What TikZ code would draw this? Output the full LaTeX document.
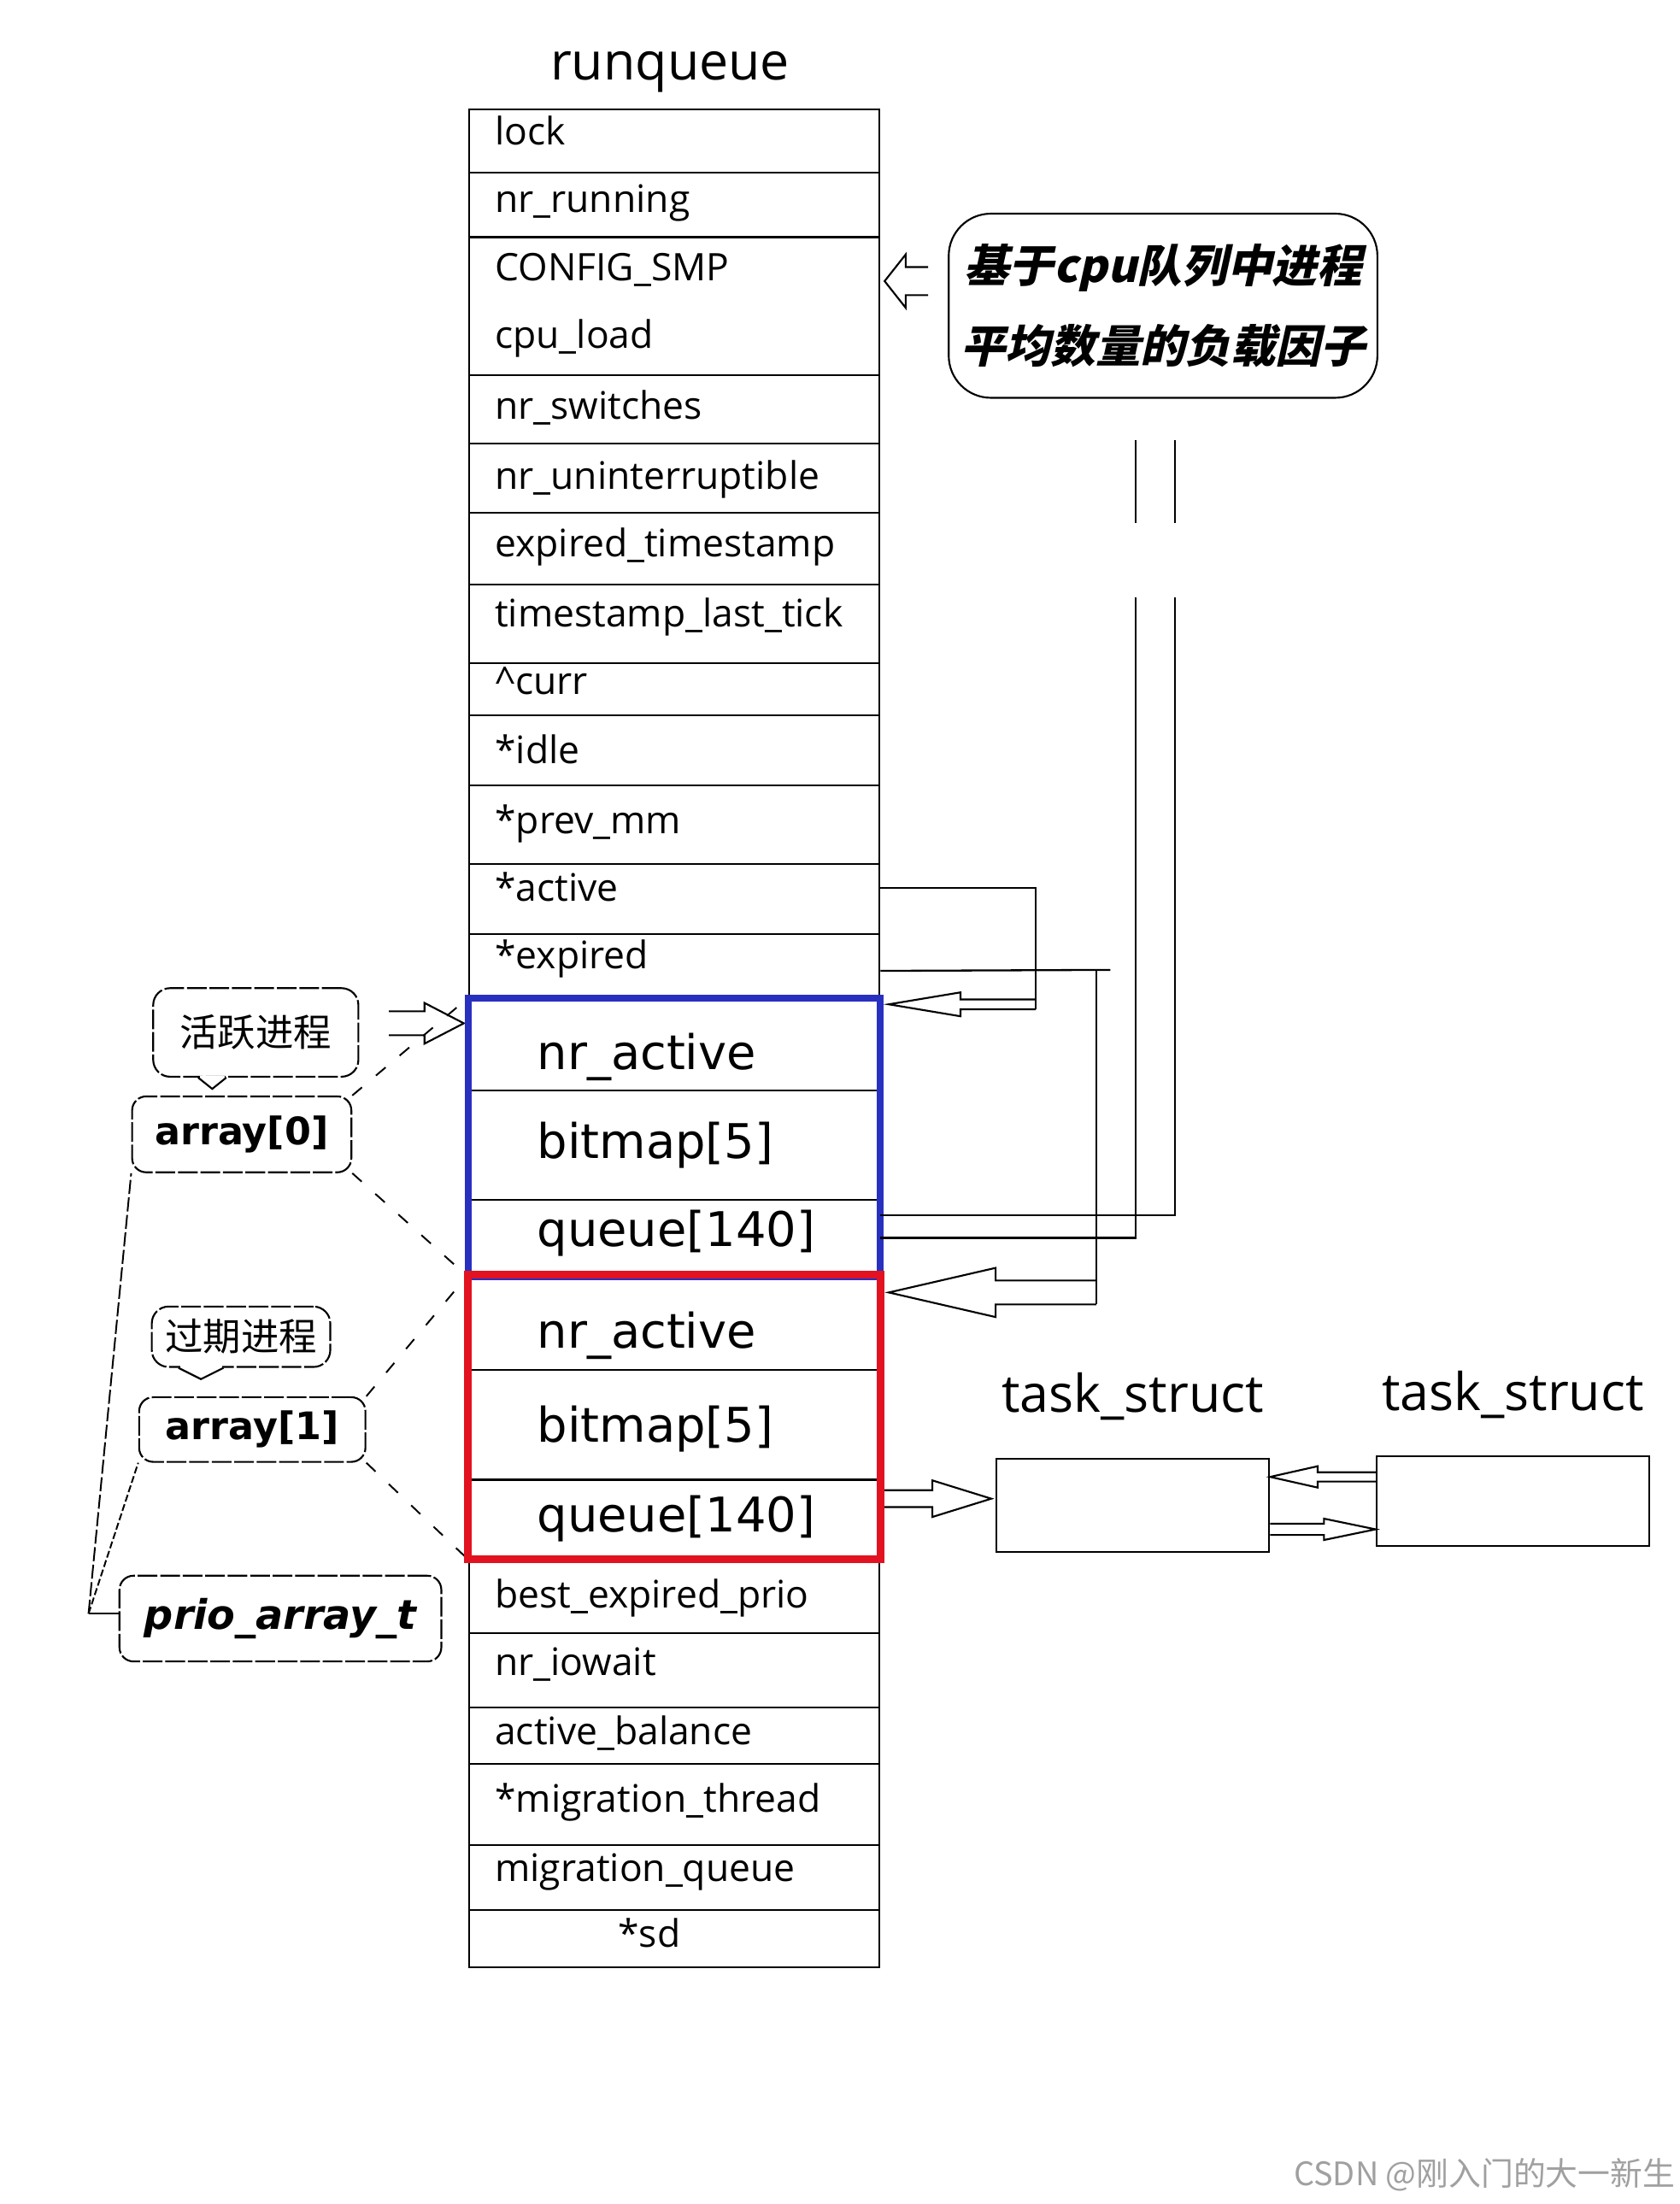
\documentclass[tikz,border=0pt]{standalone}
\usepackage{fontspec}
\setmainfont{Open Sans}
\newfontfamily\verdfont{DejaVu Sans}
\newfontfamily\cjkfont{Noto Sans CJK SC}
\newfontfamily\cjkslant{Noto Sans CJK SC}[FakeSlant=0.22]
\usetikzlibrary{calc, positioning}
\definecolor{actblue}{RGB}{40,48,192}
\definecolor{expred}{RGB}{226,18,32}
\definecolor{markgray}{RGB}{160,160,160}
\newcommand\fieldfont{\fontsize{27pt}{33pt}\selectfont}
\newcommand\bigfont{\verdfont\fontsize{34pt}{40pt}\selectfont}
\newcommand\arrfont{\verdfont\bfseries\fontsize{27pt}{32pt}\selectfont}
\newcommand\priofont{\verdfont\bfseries\itshape\fontsize{29pt}{34pt}\selectfont}
\newcommand\cjklabel{\cjkfont\fontsize{27pt}{32pt}\selectfont}
\newcommand\loadfont{\cjkslant\bfseries\fontsize{32pt}{40pt}\selectfont}
\newcommand\titlefont{\fontsize{37pt}{44pt}\selectfont}
\newcommand\markfont{\cjkfont\fontsize{23pt}{28pt}\selectfont}
\tikzset{
  field/.style={draw, line width=1.4pt, minimum width=292pt, anchor=north west, inner sep=0pt},
  fieldtxt/.style={anchor=base west, inner sep=0pt, font=\fieldfont},
  bigtxt/.style={anchor=base west, inner sep=0pt, font=\bigfont},
  actframe/.style={draw=actblue, line width=5pt},
  expframe/.style={draw=expred, line width=5.5pt},
  arrbox/.style={draw, line width=1.3pt, rounded corners=10pt, dash pattern=on 14pt off 2pt, inner sep=0pt},
  bubble/.style={arrbox, rounded corners=12pt, font=\cjklabel},
  taskbox/.style={draw, line width=1.4pt, minimum width=194pt, inner sep=0pt},
  tasklbl/.style={font=\titlefont, inner sep=0pt},
  wire/.style={line width=1.4pt},
  hint/.style={line width=1.2pt, dash pattern=on 9pt off 13pt},
  brkline/.style={line width=1.2pt, dash pattern=on 10pt off 2.5pt},
  hollow/.style n args={3}{line width=1.3pt, to path={
      let \p1=(\tikztostart), \p2=(\tikztotarget),
          \p3=($(\tikztotarget)!#3pt!(\tikztostart)$) in
      (\x1,\y1+#1) -- (\x3,\y1+#1) -- (\x3,\y1+#2) -- (\x2,\y1)
      -- (\x3,\y1-#2) -- (\x3,\y1-#1) -- (\x1,\y1-#1)}}
}
\begin{document}
\begin{tikzpicture}[x=1pt, y=-1pt]
  \useasboundingbox (0,0) rectangle (1195,1568);

  % runqueue fields
  \foreach \ytop/\ybot/\rname in {77/122/lock, 122/168/run, 168/266/cfg, 266/315/sw,
      315/364/unint, 364/415/exts, 415/471/tslt, 471/508/curr, 508/558/idle,
      558/614/prevmm, 614/664/active, 664/710/expired,
      710/775/a1, 775/853/a2, 853/907/a3, 907/974/e1, 974/1052/e2, 1052/1108/e3,
      1108/1161/bep, 1161/1214/iow, 1214/1254/actbal, 1254/1312/migth,
      1312/1358/migq, 1358/1399/sd}
    \node[field, minimum height={(\ybot-\ytop)*1pt}] (\rname) at (333,\ytop) {};
  \node[font=\titlefont, inner sep=0pt, above=11pt of lock, xshift=-3pt] (title) {runqueue};

  \foreach \bl/\txt [count=\i] in {103/lock, 151/nr\_running, 200/CONFIG\_SMP,
      248/cpu\_load, 298/nr\_switches, 348/nr\_uninterruptible,
      396/expired\_timestamp, 446/timestamp\_last\_tick, 494/\textasciicircum curr,
      543/*idle, 593/*prev\_mm, 641/*active, 689/*expired,
      1144/best\_expired\_prio, 1192/nr\_iowait, 1241/active\_balance,
      1289/*migration\_thread, 1338.5/migration\_queue}
    \node[fieldtxt] (f\i) at (352,\bl) {\txt};
  \node[fieldtxt, anchor=base] (fsd) at (462,1385) {*sd};

  % the two prio arrays
  \foreach \bl/\txt [count=\i] in {761/nr\_active, 824/bitmap[5], 887/queue[140],
      959/nr\_active, 1026/bitmap[5], 1090/queue[140]}
    \node[bigtxt] (g\i) at (382,\bl) {\txt};

  % left side tags
  \node[bubble, minimum width=146pt, minimum height=63pt] (act) at (182,734.5) {活跃进程};
  \node[arrbox, minimum width=156pt, minimum height=54pt, font=\arrfont] (arr0) at (172,807) {array[0]};
  \node[bubble, minimum width=127pt, minimum height=43pt] (exp) at (171.5,951) {过期进程};
  \node[arrbox, minimum width=161pt, minimum height=46pt, font=\arrfont] (arr1) at (179.5,1017) {array[1]};
  \node[arrbox, minimum width=229pt, minimum height=61pt, font=\priofont] (prio) at (199.5,1151.5) {prio\_array\_t};
  \draw[white, line width=3pt] ([xshift=-40pt]act.south) -- ([xshift=-22pt]act.south);
  \draw[line width=1.3pt] ([xshift=-41pt]act.south) -- ([xshift=-31pt,yshift=-8pt]act.south) -- ([xshift=-21pt]act.south);
  \draw[white, line width=3pt] ([xshift=-43.5pt]exp.south) -- ([xshift=-13.5pt]exp.south);
  \draw[line width=1.3pt] ([xshift=-44.5pt]exp.south) -- ([xshift=-28.5pt,yshift=-8pt]exp.south) -- ([xshift=-12.5pt]exp.south);

  % load factor note
  \node[draw, line width=1.3pt, rounded corners=30pt, minimum width=305pt, minimum height=131pt,
        align=center, font=\loadfont] (load) at (827.5,217.5) {基于cpu队列中进程\\[17pt]平均数量的负载因子};

  % task list
  \node[taskbox, minimum height=66pt] (ts1) at (806,1071) {};
  \node[taskbox, minimum height=64pt, right=75pt of ts1, yshift=3pt] (ts2) {};
  \node[tasklbl, above=27pt of ts1] (ts1lbl) {task\_struct};
  \node[tasklbl, above=26pt of ts2] (ts2lbl) {task\_struct};

  \coordinate (brk) at (63,1148);
  \coordinate (acttail) at (737,714.5);
  \coordinate (actbend) at (737,718);
  \coordinate (expend) at (790,690);
  \coordinate (expbot) at (780,928);
  \coordinate (exptail) at (780,919.5);
  \coordinate (rtop) at (836,313);
  \coordinate (rcut) at (836,372);
  \coordinate (rlow) at (836,425);
  \coordinate (ltop) at (808,313);
  \coordinate (lcut) at (808,372);
  \coordinate (llow) at (808,425);

  \draw[hint] (arr0.north east) -- (a1.north west);
  \draw[hint] (arr0.south east) -- (a3.south west);
  \draw[hint] (arr1.north east) -- (e1.north west);
  \draw[hint] (arr1.south east) -- (e3.south west);
  \draw[brkline] (brk) -- (arr0.south west);
  \draw[brkline, dash pattern=on 5pt off 2pt] (brk) -- (arr1.south west);
  \draw[wire] (brk) -- (brk -| prio.west);

  \draw[hollow={10}{19}{15}] ([xshift=-14pt,yshift=17.5pt]load.west) to ([xshift=3pt,yshift=17pt]cfg.east);
  \draw[hollow={8.5}{14.5}{28}] ([xshift=21pt,yshift=6.5pt]act.east) to ([xshift=-3pt,yshift=-18pt]a1.north west);
  \draw[hollow={3.5}{8.5}{51}] (acttail) to ([xshift=6pt,yshift=-4.5pt]a1.north east);
  \draw[hollow={8.5}{17.5}{76}] (exptail) to ([xshift=6pt,yshift=-12.5pt]e1.north east);
  \draw[hollow={6}{13}{42}] ([yshift=14.5pt]e3.east) to ([xshift=-3pt]ts1.west);
  \draw[hollow={3.3}{7.6}{35}] ([yshift=17.3pt]ts2.west) to (ts1.east);
  \draw[hollow={4}{7.6}{38}] ([yshift=-17pt]ts1.east) to (ts2.west);

  \draw[actframe] (a1.north west) rectangle (a3.south east);
  \draw[expframe] (e1.north west) rectangle (e3.south east);

  \draw[wire] ([yshift=8pt]active.east) -| (actbend);
  \draw[wire] ([yshift=-3pt]expired.east) -- (expend);
  \draw[wire] (expbot |- expend) -- (expbot);
  \draw[wire] ([yshift=16pt]a3.east) -| (rlow);
  \draw[wire] (a3.east) -| (llow);
  \draw[wire] (rtop) -- (rcut);
  \draw[wire] (ltop) -- (lcut);

  \node[font=\markfont, text=markgray, anchor=east, inner sep=0pt] (mark) at (1192,1547) {CSDN @刚入门的大一新生};
\end{tikzpicture}
\end{document}
